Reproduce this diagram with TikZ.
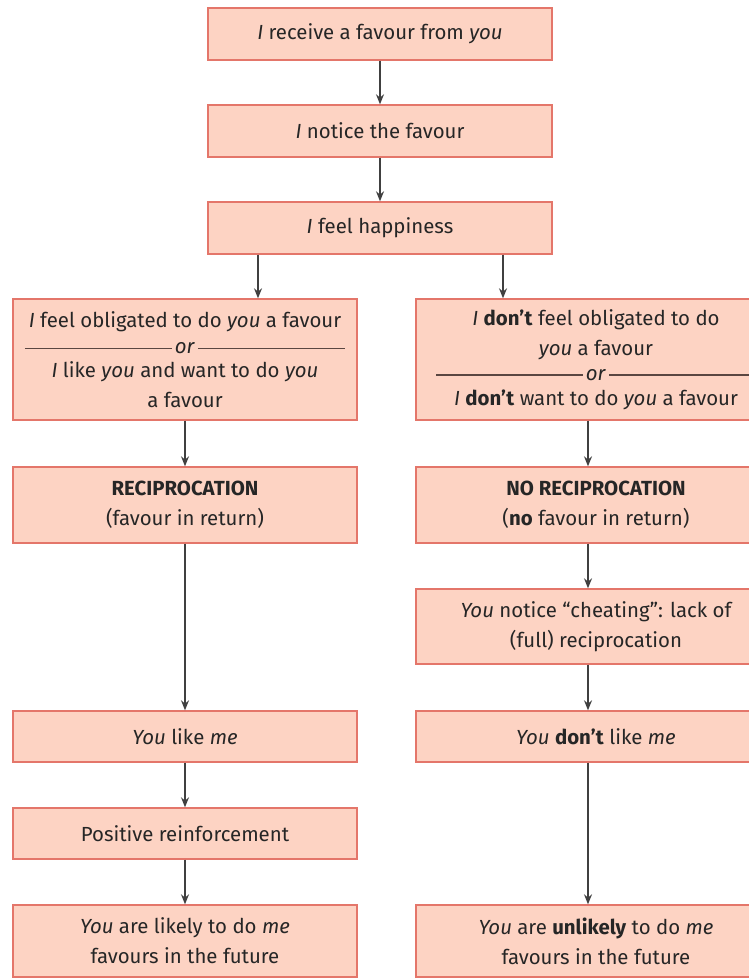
\documentclass[tikz,border=0pt]{standalone}
\usepackage{fontspec}
\setmainfont{Fira Sans}
\usetikzlibrary{arrows.meta}

\definecolor{boxfill}{HTML}{FDD3C3}
\definecolor{boxline}{HTML}{E4766A}
\definecolor{ink}{HTML}{262626}
\definecolor{arrowcol}{HTML}{404040}
\definecolor{rulecol}{HTML}{5A4641}

\newcommand{\orline}{\makebox[160pt]{{\color{rulecol}\leaders\hrule height 2.9pt depth -2.2pt\hfill}\,\textit{or}\,{\color{rulecol}\leaders\hrule height 2.9pt depth -2.2pt\hfill}}}

\tikzset{
  box/.style={draw=boxline, fill=boxfill, line width=0.7pt, minimum width=172pt,
    inner sep=0pt, align=center, text=ink, font=\fontsize{10.2}{15}\selectfont},
  widebox/.style={box, minimum width=180pt},
  arr/.style={draw=arrowcol, line width=0.6pt, -{Stealth[length=5pt,width=4pt]}}
}

\begin{document}
\begin{tikzpicture}[x=0.5pt, y=-0.5pt]
  \useasboundingbox (0,0) rectangle (749,980);

  % The top boxes
  \node[box, minimum height=26pt] (receive) at (380,34) {\textit{I} receive a favour from \textit{you}};
  \node[box, minimum height=26pt] (notice) at (380,131) {\textit{I} notice the favour};
  \node[box, minimum height=26pt] (happy) at (380,228) {\textit{I} feel happiness};

  % Left column
  \node[box, minimum height=60.5pt] (oblig) at (185,359.5) {\textit{I} feel obligated to do \textit{you} a favour\\[-2pt]
    \orline\\[-3pt]
    \textit{I} like \textit{you} and want to do \textit{you}\\ a favour};
  \node[box, minimum height=38pt] (recip) at (185,505) {\textbf{RECIPROCATION}\\(favour in return)};
  \node[box, minimum height=25.5pt] (like) at (185,736.5) {\textit{You} like \textit{me}};
  \node[box, minimum height=25.5pt] (posit) at (185,833.5) {Positive reinforcement};
  \node[box, minimum height=36pt] (likely) at (185,941) {\textit{You} are likely to do \textit{me}\\favours in the future};

  % Right column
  \node[widebox, minimum height=60.5pt] (noblig) at (596,359.5) {\textit{I} \textbf{don't} feel obligated to do\\ \textit{you} a favour\\[-2.5pt]
    \orline\\[-2.5pt]
    \textit{I} \textbf{don't} want to do \textit{you} a favour};
  \node[widebox, minimum height=38pt] (norecip) at (596,505) {\textbf{NO RECIPROCATION}\\(\textbf{no} favour in return)};
  \node[widebox, minimum height=37.5pt] (cheat) at (596,626.5) {\textit{You} notice “cheating”: lack of\\(full) reciprocation};
  \node[widebox, minimum height=25.5pt] (dislike) at (596,736.5) {\textit{You} \textbf{don't} like \textit{me}};
  \node[widebox, minimum height=36pt] (unlikely) at (596,941) {\textit{You} are \textbf{unlikely} to do \textit{me}\\favours in the future};

  % Arrows
  \coordinate (lx) at (258,0);
  \coordinate (mx) at (503,0);
  \coordinate (rx) at (588,0);
  \draw[arr] (receive) -- (notice);
  \draw[arr] (notice) -- (happy);
  \draw[arr] (happy.south -| lx) -- (oblig.north -| lx);
  \draw[arr] (happy.south -| mx) -- (noblig.north -| mx);
  \draw[arr] (oblig) -- (recip);
  \draw[arr] (recip) -- (like);
  \draw[arr] (like) -- (posit);
  \draw[arr] (posit) -- (likely);
  \draw[arr] (noblig.south -| rx) -- (norecip.north -| rx);
  \draw[arr] (norecip.south -| rx) -- (cheat.north -| rx);
  \draw[arr] (cheat.south -| rx) -- (dislike.north -| rx);
  \draw[arr] (dislike.south -| rx) -- (unlikely.north -| rx);
\end{tikzpicture}
\end{document}
